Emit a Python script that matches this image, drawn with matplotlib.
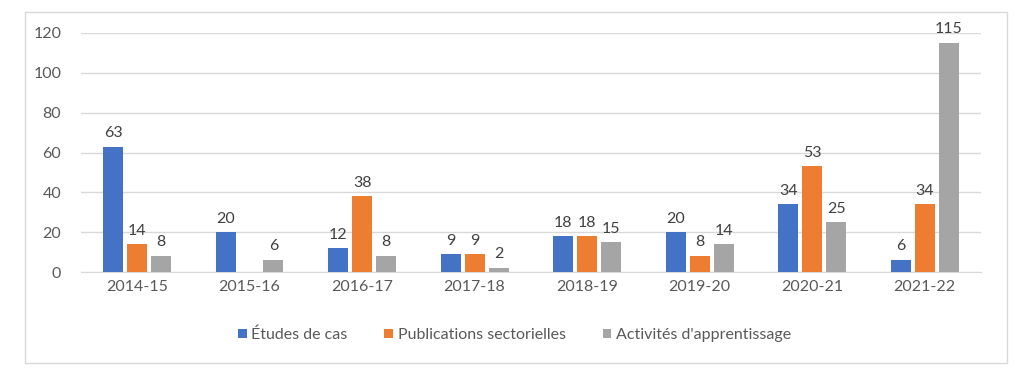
import matplotlib
matplotlib.use("Agg")
import matplotlib.pyplot as plt
from matplotlib.patches import Rectangle
import numpy as np

years = ["2014-15", "2015-16", "2016-17", "2017-18", "2018-19", "2019-20", "2020-21", "2021-22"]
etudes = [63, 20, 12, 9, 18, 20, 34, 6]
publications = [14, None, 38, 9, 18, 8, 53, 34]
activites = [8, 6, 8, 2, 15, 14, 25, 115]

series = [
    ("Études de cas", etudes, "#4472C4"),
    ("Publications sectorielles", publications, "#ED7D31"),
    ("Activités d'apprentissage", activites, "#A5A5A5"),
]

plt.rcParams['font.family'] = ['Lato', 'DejaVu Sans']

fig = plt.figure(figsize=(10.15, 3.72), dpi=100)
# cadre du graphique
fig.patches.append(Rectangle((25 / 1015, 1 - 363 / 372), 982 / 1015, 351 / 372,
                             transform=fig.transFigure, fill=False,
                             edgecolor="#d9d9d9", linewidth=1))
ax = fig.add_axes([0.0795, 0.2688, 0.887, 0.6425])

x = np.arange(len(years))
width = 0.178
offset = 0.213
for i, (name, vals, col) in enumerate(series):
    xs = [xi + (i - 1) * offset for xi, v in zip(x, vals) if v is not None]
    vs = [v for v in vals if v is not None]
    bars = ax.bar(xs, vs, width, color=col, label=name, zorder=3)
    for b, v in zip(bars, vs):
        ax.text(b.get_x() + b.get_width() / 2, v + 3.3, str(v), ha="center", va="bottom",
                fontsize=11.5, color="#404040")

ax.set_xlim(-0.5, len(years) - 0.5)
ax.set_ylim(0, 120)
ax.set_yticks(range(0, 121, 20))
ax.set_xticks(x)
ax.set_xticklabels(years)
ax.grid(axis="y", color="#d9d9d9", linewidth=1, zorder=0)
for s in ["top", "right", "left"]:
    ax.spines[s].set_visible(False)
ax.spines["bottom"].set_color("#d9d9d9")
ax.tick_params(axis="both", length=0, labelsize=11.5, labelcolor="#595959")
ax.tick_params(axis="x", pad=6)
ax.tick_params(axis="y", pad=14)

fig.legend(loc="center", bbox_to_anchor=(0.507, 1 - 335 / 372), ncol=3, frameon=False,
           fontsize=11.5, labelcolor="#595959", handlelength=0.55, handleheight=0.55,
           handletextpad=0.3, columnspacing=2.3)

fig.savefig("out.png", dpi=100)
